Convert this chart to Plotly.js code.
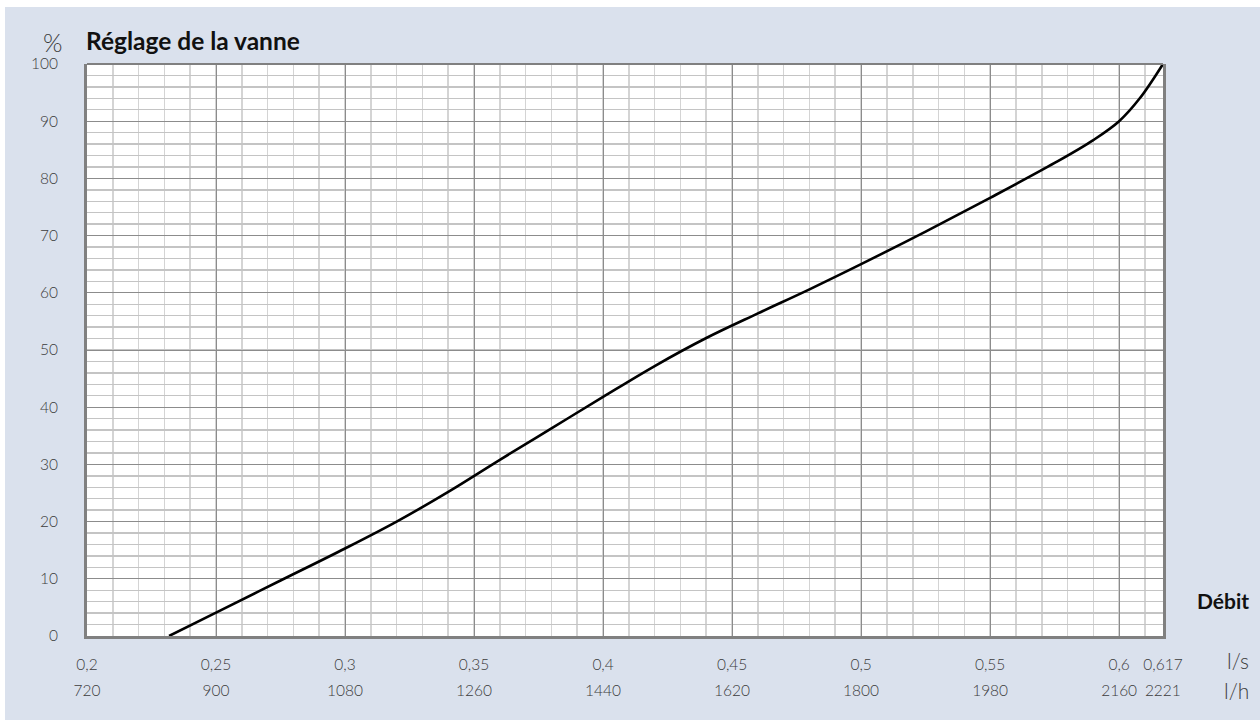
<!DOCTYPE html>
<html>
<head>
<meta charset="utf-8">
<script src="https://cdn.plot.ly/plotly-3.0.1.min.js"></script>
<style>html,body{margin:0;padding:0;background:#fff;}#chart{width:1260px;height:720px;}</style>
</head>
<body>
<div id="chart"></div>
<script>
// Curve: valve setting (%) vs flow (l/s)
const flowLs = [0.2318, 0.25, 0.275, 0.30, 0.32, 0.34, 0.36, 0.38, 0.40, 0.42, 0.44, 0.46, 0.48, 0.50, 0.525, 0.55, 0.575, 0.59, 0.60, 0.608, 0.617];
const settingPct = [0, 4.1, 9.7, 15.3, 20.0, 25.2, 30.8, 36.3, 41.8, 47.2, 52.1, 56.4, 60.6, 65.0, 70.7, 76.6, 82.7, 86.7, 90.0, 94.0, 100];

// Tick labels
const lsTickVals = [0.2, 0.25, 0.3, 0.35, 0.4, 0.45, 0.5, 0.55, 0.6, 0.617];
const lsTickText = ['0,2', '0,25', '0,3', '0,35', '0,4', '0,45', '0,5', '0,55', '0,6', '0,617'];
const lhTickVals = [720, 900, 1080, 1260, 1440, 1620, 1800, 1980, 2160, 2221];
const lhTickText = ['720', '900', '1080', '1260', '1440', '1620', '1800', '1980', '2160', '2221'];
const yTickVals = [0, 10, 20, 30, 40, 50, 60, 70, 80, 90, 100];

const FONT = 'Lato, Noto Sans, sans-serif';
const TICKCOL = '#3c3c3c';
const tickFont = {family: FONT, size: 15.5, color: TICKCOL, weight: 300};

const trace = {
  x: flowLs, y: settingPct, type: 'scatter', mode: 'lines',
  line: {color: '#000', width: 2.6, shape: 'spline', smoothing: 1},
  hoverinfo: 'skip', showlegend: false
};
// invisible trace to activate xaxis2
const trace2 = {
  x: [lhTickVals[0], lhTickVals[lhTickVals.length - 1]], y: [null, null],
  xaxis: 'x2', yaxis: 'y', type: 'scatter', mode: 'lines', showlegend: false, hoverinfo: 'skip'
};

const layout = {
  width: 1260, height: 720,
  paper_bgcolor: '#dae1ed', plot_bgcolor: '#ffffff',
  margin: {l: 87, r: 97, t: 64, b: 84, pad: 0},
  font: {family: FONT, color: TICKCOL, size: 14},
  showlegend: false,
  xaxis: {
    range: [0.2, 0.617], tickmode: 'array', tickvals: lsTickVals, ticktext: lsTickText,
    showgrid: true, gridcolor: '#8c8c8c', gridwidth: 1,
    minor: {tickmode: 'linear', tick0: 0.2, dtick: 0.01, showgrid: true, gridcolor: '#d4d4d4', gridwidth: 1.6},
    showline: true, linecolor: '#808080', linewidth: 3, mirror: false,
    ticks: '', ticklabelstandoff: 12, zeroline: false,
    tickfont: tickFont, fixedrange: true
  },
  xaxis2: {
    range: [720, 2221.2], overlaying: 'x', anchor: 'free', position: 0, side: 'bottom',
    tickmode: 'array', tickvals: lhTickVals, ticktext: lhTickText,
    showgrid: false, showline: false, zeroline: false, ticks: '', ticklabelstandoff: 43,
    tickfont: tickFont, fixedrange: true
  },
  yaxis: {
    range: [0, 100], tickmode: 'array', tickvals: yTickVals,
    showgrid: true, gridcolor: '#8c8c8c', gridwidth: 1,
    minor: {tickmode: 'linear', tick0: 0, dtick: 2, showgrid: true, gridcolor: '#c4c4c4', gridwidth: 1.4},
    showline: true, linecolor: '#808080', linewidth: 3, mirror: true,
    ticks: '', ticklabelstandoff: 23, zeroline: false,
    tickfont: tickFont, fixedrange: true
  },
  shapes: [
    // white strips around the tinted panel
    {type: 'rect', xref: 'paper', yref: 'paper', x0: -0.1, x1: (5 - 87) / 1076, y0: -0.2, y1: 1.2, fillcolor: '#ffffff', line: {width: 0}, layer: 'below'},
    {type: 'rect', xref: 'paper', yref: 'paper', x0: -0.1, x1: 1.2, y0: 1 + (64 - 7) / 572, y1: 1.2, fillcolor: '#ffffff', line: {width: 0}, layer: 'below'},
    // top frame line
    {type: 'line', xref: 'paper', yref: 'paper', x0: 0, x1: 1, y0: 1, y1: 1, line: {color: '#808080', width: 2}, layer: 'above'}
  ],
  annotations: [
    {text: '%', xref: 'paper', yref: 'paper', x: (53 - 87) / 1076, y: 1 + (64 - 42) / 572, xanchor: 'center', yanchor: 'middle', showarrow: false, font: {family: FONT, size: 25, color: TICKCOL, weight: 300}},
    {text: '<b>Réglage de la vanne</b>', xref: 'paper', yref: 'paper', x: (84 - 87) / 1076, y: 1 + (64 - 40) / 572, xanchor: 'left', yanchor: 'middle', showarrow: false, font: {family: FONT, size: 24.5, color: '#111'}},
    {text: '<b>Débit</b>', xref: 'paper', yref: 'paper', x: (1251 - 1163) / 1076 + 1, y: (636 - 600) / 572, xanchor: 'right', yanchor: 'middle', showarrow: false, font: {family: FONT, size: 21, color: '#111'}},
    {text: 'l/s', xref: 'paper', yref: 'paper', x: (1251 - 1163) / 1076 + 1, y: (636 - 660) / 572, xanchor: 'right', yanchor: 'middle', showarrow: false, font: {family: FONT, size: 21, color: TICKCOL, weight: 300}},
    {text: 'l/h', xref: 'paper', yref: 'paper', x: (1251 - 1163) / 1076 + 1, y: (636 - 690) / 572, xanchor: 'right', yanchor: 'middle', showarrow: false, font: {family: FONT, size: 21, color: TICKCOL, weight: 300}}
  ]
};

Plotly.newPlot('chart', [trace, trace2], layout, {displayModeBar: false, staticPlot: true});
</script>
</body>
</html>
